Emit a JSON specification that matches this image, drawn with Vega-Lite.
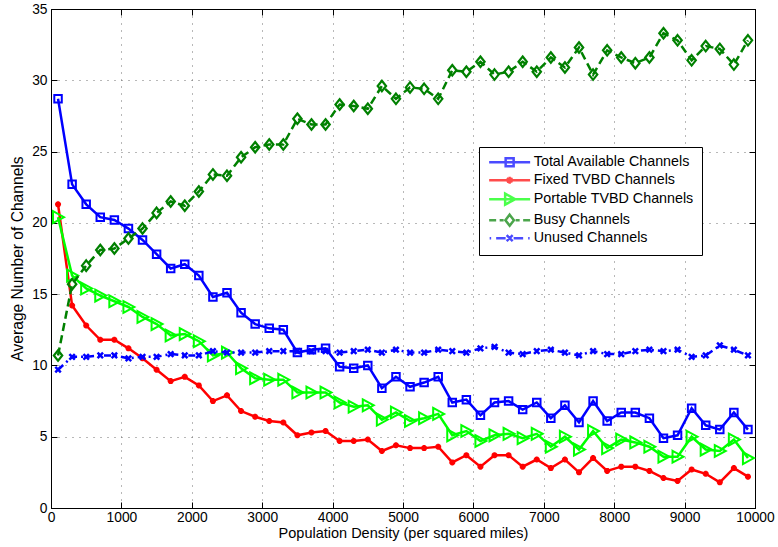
{
  "$schema": "https://vega.github.io/schema/vega-lite/v6.json",
  "width": 704,
  "height": 499,
  "autosize": "none",
  "padding": {"left": 51, "top": 9, "right": 23, "bottom": 39},
  "background": "white",
  "config": {
    "font": "Liberation Sans",
    "view": {"stroke": "black", "strokeWidth": 1},
    "axis": {
      "labelFont": "Liberation Sans",
      "titleFont": "Liberation Sans",
      "labelColor": "black",
      "titleColor": "black",
      "titleFontWeight": "normal",
      "domainColor": "black",
      "tickColor": "black",
      "domainWidth": 1,
      "tickWidth": 1,
      "labelFlush": false,
      "labelOverlap": false
    }
  },
  "data": {
    "values": [
      {"density": 100, "Total Available Channels": 28.7, "Fixed TVBD Channels": 21.3, "Portable TVBD Channels": 20.4, "Busy Channels": 10.7, "Unused Channels": 9.7},
      {"density": 300, "Total Available Channels": 22.7, "Fixed TVBD Channels": 14.2, "Portable TVBD Channels": 16.3, "Busy Channels": 15.7, "Unused Channels": 10.6},
      {"density": 500, "Total Available Channels": 21.3, "Fixed TVBD Channels": 12.8, "Portable TVBD Channels": 15.4, "Busy Channels": 17.0, "Unused Channels": 10.6},
      {"density": 700, "Total Available Channels": 20.4, "Fixed TVBD Channels": 11.8, "Portable TVBD Channels": 14.9, "Busy Channels": 18.1, "Unused Channels": 10.7},
      {"density": 900, "Total Available Channels": 20.2, "Fixed TVBD Channels": 11.8, "Portable TVBD Channels": 14.5, "Busy Channels": 18.2, "Unused Channels": 10.7},
      {"density": 1100, "Total Available Channels": 19.6, "Fixed TVBD Channels": 11.2, "Portable TVBD Channels": 14.1, "Busy Channels": 18.9, "Unused Channels": 10.5},
      {"density": 1300, "Total Available Channels": 18.8, "Fixed TVBD Channels": 10.5, "Portable TVBD Channels": 13.4, "Busy Channels": 19.6, "Unused Channels": 10.6},
      {"density": 1500, "Total Available Channels": 17.8, "Fixed TVBD Channels": 9.7, "Portable TVBD Channels": 12.9, "Busy Channels": 20.7, "Unused Channels": 10.6},
      {"density": 1700, "Total Available Channels": 16.8, "Fixed TVBD Channels": 8.9, "Portable TVBD Channels": 12.1, "Busy Channels": 21.5, "Unused Channels": 10.8},
      {"density": 1900, "Total Available Channels": 17.1, "Fixed TVBD Channels": 9.2, "Portable TVBD Channels": 12.2, "Busy Channels": 21.2, "Unused Channels": 10.7},
      {"density": 2100, "Total Available Channels": 16.3, "Fixed TVBD Channels": 8.6, "Portable TVBD Channels": 11.7, "Busy Channels": 22.2, "Unused Channels": 10.7},
      {"density": 2300, "Total Available Channels": 14.8, "Fixed TVBD Channels": 7.5, "Portable TVBD Channels": 10.7, "Busy Channels": 23.4, "Unused Channels": 11.0},
      {"density": 2500, "Total Available Channels": 15.1, "Fixed TVBD Channels": 7.9, "Portable TVBD Channels": 10.9, "Busy Channels": 23.3, "Unused Channels": 10.9},
      {"density": 2700, "Total Available Channels": 13.7, "Fixed TVBD Channels": 6.8, "Portable TVBD Channels": 9.8, "Busy Channels": 24.6, "Unused Channels": 10.9},
      {"density": 2900, "Total Available Channels": 12.9, "Fixed TVBD Channels": 6.4, "Portable TVBD Channels": 9.1, "Busy Channels": 25.3, "Unused Channels": 10.9},
      {"density": 3100, "Total Available Channels": 12.6, "Fixed TVBD Channels": 6.1, "Portable TVBD Channels": 9.0, "Busy Channels": 25.5, "Unused Channels": 11.0},
      {"density": 3300, "Total Available Channels": 12.5, "Fixed TVBD Channels": 6.0, "Portable TVBD Channels": 9.0, "Busy Channels": 25.5, "Unused Channels": 11.0},
      {"density": 3500, "Total Available Channels": 10.9, "Fixed TVBD Channels": 5.1, "Portable TVBD Channels": 8.1, "Busy Channels": 27.3, "Unused Channels": 11.0},
      {"density": 3700, "Total Available Channels": 11.1, "Fixed TVBD Channels": 5.3, "Portable TVBD Channels": 8.1, "Busy Channels": 26.9, "Unused Channels": 11.0},
      {"density": 3900, "Total Available Channels": 11.2, "Fixed TVBD Channels": 5.4, "Portable TVBD Channels": 8.1, "Busy Channels": 26.9, "Unused Channels": 11.0},
      {"density": 4100, "Total Available Channels": 9.9, "Fixed TVBD Channels": 4.7, "Portable TVBD Channels": 7.4, "Busy Channels": 28.3, "Unused Channels": 10.9},
      {"density": 4300, "Total Available Channels": 9.8, "Fixed TVBD Channels": 4.7, "Portable TVBD Channels": 7.1, "Busy Channels": 28.2, "Unused Channels": 11.0},
      {"density": 4500, "Total Available Channels": 10.0, "Fixed TVBD Channels": 4.8, "Portable TVBD Channels": 7.2, "Busy Channels": 28.0, "Unused Channels": 11.1},
      {"density": 4700, "Total Available Channels": 8.4, "Fixed TVBD Channels": 4.0, "Portable TVBD Channels": 6.2, "Busy Channels": 29.6, "Unused Channels": 10.9},
      {"density": 4900, "Total Available Channels": 9.2, "Fixed TVBD Channels": 4.4, "Portable TVBD Channels": 6.7, "Busy Channels": 28.7, "Unused Channels": 11.1},
      {"density": 5100, "Total Available Channels": 8.5, "Fixed TVBD Channels": 4.2, "Portable TVBD Channels": 6.1, "Busy Channels": 29.5, "Unused Channels": 10.9},
      {"density": 5300, "Total Available Channels": 8.8, "Fixed TVBD Channels": 4.2, "Portable TVBD Channels": 6.3, "Busy Channels": 29.4, "Unused Channels": 10.9},
      {"density": 5500, "Total Available Channels": 9.2, "Fixed TVBD Channels": 4.3, "Portable TVBD Channels": 6.6, "Busy Channels": 28.7, "Unused Channels": 11.1},
      {"density": 5700, "Total Available Channels": 7.4, "Fixed TVBD Channels": 3.2, "Portable TVBD Channels": 5.1, "Busy Channels": 30.7, "Unused Channels": 11.0},
      {"density": 5900, "Total Available Channels": 7.6, "Fixed TVBD Channels": 3.7, "Portable TVBD Channels": 5.4, "Busy Channels": 30.6, "Unused Channels": 10.9},
      {"density": 6100, "Total Available Channels": 6.5, "Fixed TVBD Channels": 2.9, "Portable TVBD Channels": 4.7, "Busy Channels": 31.3, "Unused Channels": 11.2},
      {"density": 6300, "Total Available Channels": 7.4, "Fixed TVBD Channels": 3.7, "Portable TVBD Channels": 5.1, "Busy Channels": 30.4, "Unused Channels": 11.3},
      {"density": 6500, "Total Available Channels": 7.5, "Fixed TVBD Channels": 3.7, "Portable TVBD Channels": 5.2, "Busy Channels": 30.6, "Unused Channels": 10.9},
      {"density": 6700, "Total Available Channels": 6.9, "Fixed TVBD Channels": 2.9, "Portable TVBD Channels": 4.9, "Busy Channels": 31.3, "Unused Channels": 10.8},
      {"density": 6900, "Total Available Channels": 7.4, "Fixed TVBD Channels": 3.4, "Portable TVBD Channels": 5.2, "Busy Channels": 30.6, "Unused Channels": 11.0},
      {"density": 7100, "Total Available Channels": 6.3, "Fixed TVBD Channels": 2.8, "Portable TVBD Channels": 4.3, "Busy Channels": 31.6, "Unused Channels": 11.1},
      {"density": 7300, "Total Available Channels": 7.2, "Fixed TVBD Channels": 3.4, "Portable TVBD Channels": 5.0, "Busy Channels": 30.9, "Unused Channels": 10.9},
      {"density": 7500, "Total Available Channels": 6.0, "Fixed TVBD Channels": 2.5, "Portable TVBD Channels": 4.1, "Busy Channels": 32.3, "Unused Channels": 10.7},
      {"density": 7700, "Total Available Channels": 7.5, "Fixed TVBD Channels": 3.5, "Portable TVBD Channels": 5.4, "Busy Channels": 30.4, "Unused Channels": 11.0},
      {"density": 7900, "Total Available Channels": 6.1, "Fixed TVBD Channels": 2.6, "Portable TVBD Channels": 4.2, "Busy Channels": 32.1, "Unused Channels": 10.8},
      {"density": 8100, "Total Available Channels": 6.7, "Fixed TVBD Channels": 2.9, "Portable TVBD Channels": 4.8, "Busy Channels": 31.6, "Unused Channels": 10.8},
      {"density": 8300, "Total Available Channels": 6.7, "Fixed TVBD Channels": 2.9, "Portable TVBD Channels": 4.6, "Busy Channels": 31.2, "Unused Channels": 11.0},
      {"density": 8500, "Total Available Channels": 6.3, "Fixed TVBD Channels": 2.6, "Portable TVBD Channels": 4.3, "Busy Channels": 31.6, "Unused Channels": 11.1},
      {"density": 8700, "Total Available Channels": 4.9, "Fixed TVBD Channels": 2.1, "Portable TVBD Channels": 3.6, "Busy Channels": 33.3, "Unused Channels": 11.0},
      {"density": 8900, "Total Available Channels": 5.1, "Fixed TVBD Channels": 1.9, "Portable TVBD Channels": 3.6, "Busy Channels": 32.8, "Unused Channels": 11.1},
      {"density": 9100, "Total Available Channels": 7.0, "Fixed TVBD Channels": 2.7, "Portable TVBD Channels": 5.0, "Busy Channels": 31.4, "Unused Channels": 10.6},
      {"density": 9300, "Total Available Channels": 5.8, "Fixed TVBD Channels": 2.4, "Portable TVBD Channels": 4.1, "Busy Channels": 32.4, "Unused Channels": 10.7},
      {"density": 9500, "Total Available Channels": 5.5, "Fixed TVBD Channels": 1.8, "Portable TVBD Channels": 4.0, "Busy Channels": 32.2, "Unused Channels": 11.4},
      {"density": 9700, "Total Available Channels": 6.7, "Fixed TVBD Channels": 2.8, "Portable TVBD Channels": 4.8, "Busy Channels": 31.1, "Unused Channels": 11.1},
      {"density": 9900, "Total Available Channels": 5.5, "Fixed TVBD Channels": 2.2, "Portable TVBD Channels": 3.5, "Busy Channels": 32.8, "Unused Channels": 10.7}
    ]
  },
  "transform": [
    {"fold": ["Total Available Channels", "Fixed TVBD Channels", "Portable TVBD Channels", "Busy Channels", "Unused Channels"], "as": ["series", "channels"]}
  ],
  "resolve": {"axis": {"x": "independent", "y": "independent"}},
  "layer": [
    {
      "encoding": {
        "x": {
          "field": "density", "type": "quantitative",
          "scale": {"domain": [0, 10000], "nice": false, "zero": false},
          "axis": {
            "orient": "bottom",
            "values": [0, 1000, 2000, 3000, 4000, 5000, 6000, 7000, 8000, 9000, 10000],
            "format": "d",
            "title": "Population Density (per squared miles)",
            "titleFontSize": 14.5,
            "titlePadding": 2,
            "labelFontSize": 13.8,
            "labelPadding": 8.5,
            "tickSize": -6,
            "grid": true,
            "gridColor": "#707070",
            "gridDash": [1, 6],
            "gridWidth": 1
          }
        },
        "y": {
          "field": "channels", "type": "quantitative",
          "scale": {"domain": [0, 35], "nice": false, "zero": false},
          "axis": {
            "orient": "left",
            "values": [0, 5, 10, 15, 20, 25, 30, 35],
            "title": "Average Number of Channels",
            "titleFontSize": 15.6,
            "titlePadding": 6,
            "labelFontSize": 13.8,
            "labelPadding": 10,
            "tickSize": -6,
            "grid": true,
            "gridColor": "#707070",
            "gridDash": [1, 6],
            "gridWidth": 1
          }
        }
      },
      "layer": [
        {
          "transform": [{"filter": "datum.series === 'Total Available Channels'"}],
          "layer": [
            {"mark": {"type": "line", "strokeWidth": 2.5, "color": "#0000ff"}},
            {"mark": {"type": "point", "shape": "square", "size": 56, "filled": false, "strokeWidth": 2, "color": "#0000ff", "opacity": 1}}
          ]
        },
        {
          "transform": [{"filter": "datum.series === 'Fixed TVBD Channels'"}],
          "layer": [
            {"mark": {"type": "line", "strokeWidth": 2.5, "color": "#ff0000"}},
            {"mark": {"type": "point", "shape": "M0,-1V1M-1,0H1M-0.7,-0.7L0.7,0.7M-0.7,0.7L0.7,-0.7", "size": 36, "filled": false, "strokeWidth": 2, "color": "#ff0000", "opacity": 1}}
          ]
        },
        {
          "transform": [{"filter": "datum.series === 'Portable TVBD Channels'"}],
          "layer": [
            {"mark": {"type": "line", "strokeWidth": 2.5, "color": "#00ff00"}},
            {"mark": {"type": "point", "shape": "M-0.85,-1L1,0L-0.85,1Z", "size": 140, "filled": false, "strokeWidth": 2, "color": "#00ff00", "opacity": 1}}
          ]
        },
        {
          "transform": [{"filter": "datum.series === 'Busy Channels'"}],
          "layer": [
            {"mark": {"type": "line", "strokeWidth": 2.5, "color": "#008000", "strokeDash": [8, 4.5]}},
            {"mark": {"type": "point", "shape": "M0,-1L0.8,0L0,1L-0.8,0Z", "size": 110, "filled": false, "strokeWidth": 2.2, "color": "#008000", "opacity": 1}}
          ]
        },
        {
          "transform": [{"filter": "datum.series === 'Unused Channels'"}],
          "layer": [
            {"mark": {"type": "line", "strokeWidth": 2.5, "color": "#0000ff", "strokeDash": [7, 4, 2, 4]}},
            {"mark": {"type": "point", "shape": "M-1,-1L1,1M-1,1L1,-1", "size": 30, "filled": false, "strokeWidth": 2.5, "color": "#0000ff", "opacity": 1}}
          ]
        },
        {
          "data": {"values": [
            {"series": "Total Available Channels"},
            {"series": "Fixed TVBD Channels"},
            {"series": "Portable TVBD Channels"},
            {"series": "Busy Channels"},
            {"series": "Unused Channels"}
          ]},
          "mark": {"type": "point", "filled": false, "strokeWidth": 2, "size": 100},
          "encoding": {
            "color": {
              "field": "series", "type": "nominal",
              "scale": {
                "domain": ["Total Available Channels", "Fixed TVBD Channels", "Portable TVBD Channels", "Busy Channels", "Unused Channels"],
                "range": ["#0000ff", "#ff0000", "#00ff00", "#008000", "#0000ff"]
              },
              "legend": {
                "title": null, "orient": "none", "legendX": 428, "legendY": 138,
                "padding": 8, "strokeColor": "black", "fillColor": "white",
                "symbolSize": 100, "symbolStrokeWidth": 2.5, "symbolOffset": 15.5,
                "labelOffset": 17, "labelFontSize": 14.3, "labelFont": "Liberation Sans",
                "labelColor": "black", "rowPadding": -1, "labelLimit": 400
              }
            },
            "shape": {
              "field": "series", "type": "nominal",
              "scale": {
                "domain": ["Total Available Channels", "Fixed TVBD Channels", "Portable TVBD Channels", "Busy Channels", "Unused Channels"],
                "range": [
                  "M-4.1,0H4.1M-0.8,-0.8H0.8V0.8H-0.8Z",
                  "M-4.1,0H4.1M0,-0.7V0.7M-0.6,-0.35L0.6,0.35M-0.6,0.35L0.6,-0.35",
                  "M-4.1,0H4.1M-0.9,-1.1L1.1,0L-0.9,1.1Z",
                  "M-4.1,0H-2.7M-2.0,0H-1.2M1.2,0H2.0M2.7,0H4.1M0,-1.1L0.85,0L0,1.1L-0.85,0Z",
                  "M-4.0,0H-3.7M-2.7,0H-0.8M-0.6,-0.6L0.6,0.6M-0.6,0.6L0.6,-0.6M0.8,0H2.7M3.7,0H4.0"
                ]
              },
              "legend": {
                "title": null, "orient": "none", "legendX": 428, "legendY": 138,
                "padding": 8, "strokeColor": "black", "fillColor": "white",
                "symbolSize": 100, "symbolStrokeWidth": 2.5, "symbolOffset": 15.5,
                "labelOffset": 17, "labelFontSize": 14.3, "labelFont": "Liberation Sans",
                "labelColor": "black", "rowPadding": -1, "labelLimit": 400
              }
            }
          }
        }
      ]
    },
    {
      "mark": {"type": "point", "opacity": 0},
      "encoding": {
        "x": {
          "field": "density", "type": "quantitative",
          "scale": {"domain": [0, 10000], "nice": false, "zero": false},
          "axis": {
            "orient": "top", "values": [0, 1000, 2000, 3000, 4000, 5000, 6000, 7000, 8000, 9000, 10000],
            "labels": false, "title": null, "grid": false, "tickSize": -6
          }
        },
        "y": {
          "field": "channels", "type": "quantitative",
          "scale": {"domain": [0, 35], "nice": false, "zero": false},
          "axis": {
            "orient": "right", "values": [0, 5, 10, 15, 20, 25, 30, 35],
            "labels": false, "title": null, "grid": false, "tickSize": -6
          }
        }
      }
    }
  ]
}
